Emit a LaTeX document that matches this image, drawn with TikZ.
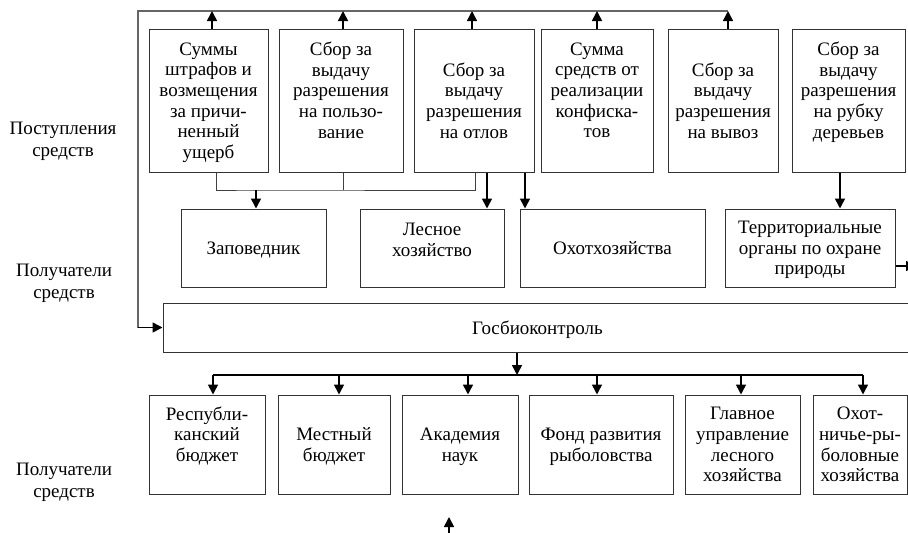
\documentclass[tikz,border=0pt]{standalone}
\usepackage{fontspec}
\setmainfont{Liberation Serif}
\usetikzlibrary{arrows.meta,calc}
\begin{document}
\begin{tikzpicture}[x=1pt,y=-1pt,
  box/.style={draw=black!80, line width=1pt, align=center, inner sep=0pt,
    text depth=-3pt, font=\fontsize{19}{20.7}\selectfont},
  arr/.style={line width=1.6pt, -{Triangle[length=10pt,width=10pt]}},
  thinline/.style={draw=black!75, line width=1pt},
  graylinee/.style={draw=black!60, line width=1.2pt},
  busline/.style={draw=black, line width=1.4pt},
  lbl/.style={align=center, font=\fontsize{19}{22}\selectfont}]
\useasboundingbox (0,0) rectangle (908,533);

% top row
\node[box, minimum width=119pt, minimum height=143pt] (s1) at (208.5,100.5)
  {Суммы\\штрафов и\\возмещения\\за причи-\\ненный\\ущерб};
\node[box, minimum width=124pt, minimum height=143pt] (s2) at (341,100.5)
  {Сбор за\\выдачу\\разрешения\\на пользо-\\вание\\\strut};
\node[box, minimum width=120pt, minimum height=143pt] (s3) at (474,100.5)
  {Сбор за\\выдачу\\разрешения\\на отлов};
\node[box, minimum width=112pt, minimum height=143pt] (s4) at (597,100.5)
  {Сумма\\средств от\\реализации\\конфиска-\\тов\\\strut};
\node[box, minimum width=110pt, minimum height=143pt] (s5) at (723,100.5)
  {Сбор за\\выдачу\\разрешения\\на вывоз};
\node[box, minimum width=113pt, minimum height=143pt] (s6) at (848.5,100.5)
  {Сбор за\\выдачу\\разрешения\\на рубку\\деревьев\\\strut};

% middle row
\node[box, minimum width=145pt, minimum height=78pt] (z) at (253.5,248) {Заповедник};
\node[box, minimum width=144pt, minimum height=78pt, text depth=17pt] (l) at (432,248) {Лесное\\хозяйство};
\node[box, minimum width=185pt, minimum height=78pt] (o) at (612.5,248) {Охотхозяйства};
\node[box, minimum width=170pt, minimum height=78pt] (t) at (810,248)
  {Территориальные\\органы по охране\\природы};

% control
\node[box, minimum width=749pt, minimum height=49pt] (g) at (537.5,327.5) {Госбиоконтроль};

% bottom row
\node[box, minimum width=116pt, minimum height=99pt] (a) at (207,444.5) {Республи-\\канский\\бюджет\\\strut};
\node[box, minimum width=112pt, minimum height=99pt] (b) at (334,444.5) {Местный\\бюджет};
\node[box, minimum width=116pt, minimum height=99pt] (c) at (460,444.5) {Академия\\наук};
\node[box, minimum width=144pt, minimum height=99pt] (d) at (601,444.5) {Фонд развития\\рыболовства};
\node[box, minimum width=115pt, minimum height=99pt] (e) at (742.5,444.5) {Главное\\управление\\лесного\\хозяйства};
\node[box, minimum width=94pt, minimum height=99pt] (f) at (860,444.5) {Охот-\\ничье-ры-\\боловные\\хозяйства};

% left labels
\node[lbl] (p1) at (63,141) {Поступления\\средств};
\node[lbl] (p2) at (64,283) {Получатели\\средств};
\node[lbl] (p3) at (64,482) {Получатели\\средств};

% top collector line
\coordinate (tl) at (138,11);
\coordinate (tr) at (728,11);
\coordinate (lb) at (138,327.5);
\draw[graylinee] (tr) -- (tl) -- (lb);
\draw[arr] (lb) -- (g.west);
\draw[arr] ([xshift=3.5pt]s1.north) -- ([xshift=3.5pt]s1.north |- tl);
\draw[arr] ([xshift=2pt]s2.north) -- ([xshift=2pt]s2.north |- tl);
\draw[arr] ([xshift=-2pt]s3.north) -- ([xshift=-2pt]s3.north |- tl);
\draw[arr] (s4.north) -- (s4.north |- tl);
\draw[arr] ([xshift=5pt]s5.north) -- (tr);

% to Zapovednik
\coordinate (b1) at ([xshift=7.5pt]s1.south);
\coordinate (b2) at ([xshift=2pt]s2.south);
\coordinate (b3) at ([xshift=1pt]s3.south);
\coordinate (j1) at (256,190);
\draw[thinline] (b1) |- (j1) -| (b3);
\draw[thinline] (b2) -- (b2 |- j1);
\draw[arr] (j1) -- (j1 |- z.north);
\draw[arr] ([xshift=13pt]s3.south) -- ([xshift=13pt]s3.south |- l.north);
\draw[arr] ([xshift=51pt]s3.south) -- ([xshift=51pt]s3.south |- o.north);
\draw[arr] ([xshift=-8.5pt]s6.south) -- ([xshift=-8.5pt]s6.south |- t.north);

% stub right
\coordinate (te) at ([yshift=-18pt]t.east);
\coordinate (off) at (916,266);
\draw[arr] (te) -- (off);

% distribution
\coordinate (h1) at (213,375);
\coordinate (h2) at (863,375);
\draw[arr] ([xshift=-20.5pt]g.south) -- ([xshift=-20.5pt]g.south |- h1);
\draw[busline] (h1) -- (h2);
\draw[arr] (h1) -- (h1 |- a.north);
\draw[arr] ([xshift=5pt]b.north |- h1) -- ([xshift=5pt]b.north);
\draw[arr] ([xshift=8pt]c.north |- h1) -- ([xshift=8pt]c.north);
\draw[arr] ([xshift=-4pt]d.north |- h1) -- ([xshift=-4pt]d.north);
\draw[arr] ([xshift=-1.5pt]e.north |- h1) -- ([xshift=-1.5pt]e.north);
\draw[arr] (h2) -- (h2 |- f.north);

% lone arrow
\coordinate (u0) at (449,540);
\coordinate (u1) at (449,517);
\draw[arr] (u0) -- (u1);
\end{tikzpicture}
\end{document}
